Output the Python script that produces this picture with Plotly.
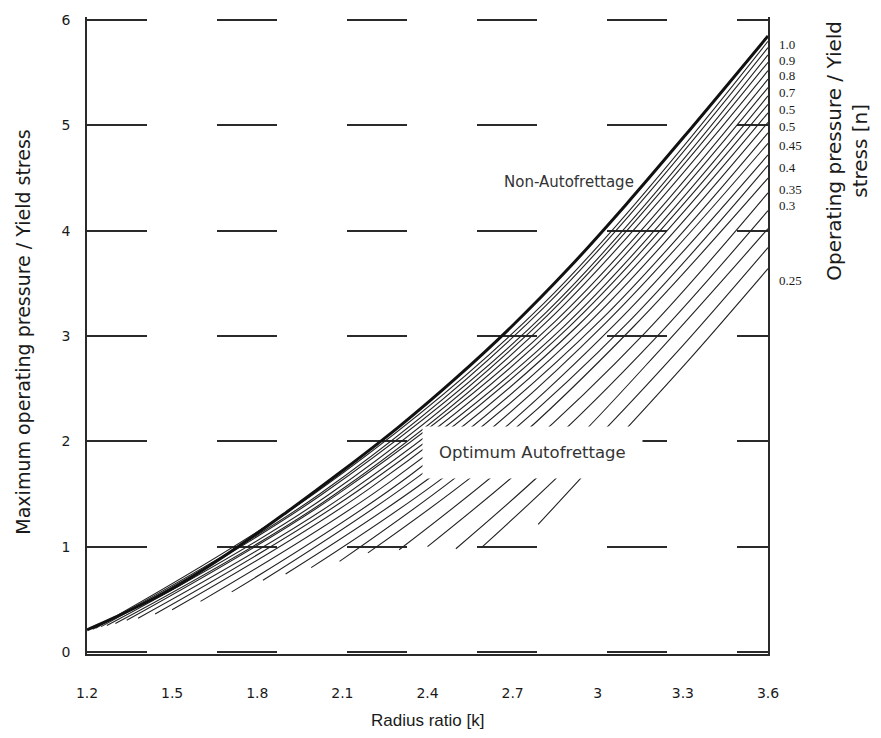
import plotly.graph_objects as go

# ---- data ----
x_ticks = [1.2, 1.5, 1.8, 2.1, 2.4, 2.7, 3.0, 3.3, 3.6]
x_tick_text = ["1.2", "1.5", "1.8", "2.1", "2.4", "2.7", "3", "3.3", "3.6"]
y_ticks = [0, 1, 2, 3, 4, 5, 6]

# Non-autofrettage limit curve (top boundary)
main_k = [1.2, 1.3, 1.5, 1.7, 1.9, 2.1, 2.3, 2.5, 2.7, 2.9, 3.1, 3.3, 3.6]
main_y = [0.21, 0.33, 0.60, 0.94, 1.32, 1.72, 2.14, 2.60, 3.10, 3.65, 4.25, 4.88, 5.85]

# Hatch curves (optimum autofrettage family): start point, two inner points, end at k = 3.6
hatch_start_k = [2.79, 2.59, 2.50, 2.40, 2.30, 2.19, 2.09, 1.99, 1.90, 1.82, 1.71,
                 1.60, 1.50, 1.44, 1.38, 1.34, 1.30, 1.27, 1.25, 1.23, 1.22]
hatch_start_y = [1.21, 0.99, 0.98, 1.00, 0.97, 0.94, 0.86, 0.80, 0.74, 0.68, 0.57,
                 0.48, 0.40, 0.36, 0.32, 0.30, 0.27, 0.25, 0.24, 0.225, 0.215]
hatch_k1 = [3.06, 2.93, 2.87, 2.80, 2.73, 2.66, 2.59, 2.53, 2.47, 2.41, 2.34,
            2.27, 2.20, 2.16, 2.12, 2.09, 2.07, 2.05, 2.03, 2.02, 2.01]
hatch_y1 = [2.00, 1.85, 1.87, 1.90, 1.90, 1.89, 1.85, 1.81, 1.78, 1.75, 1.68,
            1.62, 1.56, 1.54, 1.51, 1.51, 1.49, 1.49, 1.50, 1.50, 1.52]
hatch_k2 = [3.33, 3.27, 3.23, 3.20, 3.17, 3.13, 3.10, 3.06, 3.03, 3.01, 2.97,
            2.93, 2.90, 2.88, 2.86, 2.85, 2.83, 2.82, 2.82, 2.81, 2.81]
hatch_y2 = [2.80, 2.82, 2.90, 2.97, 3.04, 3.10, 3.11, 3.11, 3.13, 3.15, 3.13,
            3.10, 3.09, 3.09, 3.11, 3.14, 3.16, 3.19, 3.23, 3.27, 3.31]
hatch_end_y = [3.64, 3.84, 4.02, 4.19, 4.36, 4.50, 4.62, 4.72, 4.83, 4.93, 5.03,
               5.12, 5.20, 5.28, 5.36, 5.44, 5.52, 5.60, 5.67, 5.74, 5.80]
K_END = 3.6

# Right-hand n labels
n_labels = ["1.0", "0.9", "0.8", "0.7", "0.5", "0.5", "0.45", "0.4", "0.35", "0.3", "0.25"]
n_label_y = [5.77, 5.62, 5.47, 5.31, 5.15, 4.99, 4.81, 4.60, 4.39, 4.24, 3.53]

INK = "#1a1a1a"
GRID = "#2a2a2a"
GRID_DASH = "60px,70px"

fig = go.Figure()

for ks, ys, k1, y1, k2, y2, ye in zip(hatch_start_k, hatch_start_y, hatch_k1, hatch_y1,
                                      hatch_k2, hatch_y2, hatch_end_y):
    fig.add_trace(go.Scatter(
        x=[ks, k1, k2, K_END], y=[ys, y1, y2, ye], mode="lines",
        line=dict(color="#222222", width=1.1, shape="spline", smoothing=1.0),
        hoverinfo="skip", showlegend=False))

fig.add_trace(go.Scatter(
    x=main_k, y=main_y, mode="lines",
    line=dict(color="#111111", width=3, shape="spline", smoothing=1.0),
    hoverinfo="skip", showlegend=False))

annotations = []
for lab, yy in zip(n_labels, n_label_y):
    annotations.append(dict(
        x=K_END, y=yy, xref="x", yref="y", text=lab, showarrow=False,
        xanchor="left", yanchor="middle", xshift=9,
        font=dict(family="Liberation Serif, DejaVu Serif, serif", size=13, color=INK)))

annotations.append(dict(
    x=2.90, y=4.46, xref="x", yref="y", text="Non-Autofrettage", showarrow=False,
    font=dict(family="DejaVu Sans, sans-serif", size=15, color="#333333")))
annotations.append(dict(
    x=2.77, y=1.89, xref="x", yref="y", text="Optimum Autofrettage", showarrow=False,
    bgcolor="white", borderpad=16,
    font=dict(family="DejaVu Sans, sans-serif", size=16.5, color="#333333")))

# axis titles
annotations.append(dict(
    x=0.5, y=-0.105, xref="paper", yref="paper", text="Radius ratio [k]",
    showarrow=False, yanchor="middle",
    font=dict(family="Liberation Sans, Arial, sans-serif", size=17, color=INK)))
annotations.append(dict(
    x=-0.094, y=0.506, xref="paper", yref="paper",
    text="Maximum operating pressure / Yield stress", textangle=-90,
    showarrow=False, xanchor="center", yanchor="middle",
    font=dict(family="DejaVu Sans, sans-serif", size=19, color=INK)))
annotations.append(dict(
    x=1.116, y=0.79, xref="paper", yref="paper",
    text="Operating pressure / Yield<br>stress [n]", textangle=-90,
    showarrow=False, xanchor="center", yanchor="middle",
    font=dict(family="DejaVu Sans, sans-serif", size=20, color=INK)))

fig.update_layout(
    width=881, height=738,
    margin=dict(l=87, r=113, t=17, b=84),
    paper_bgcolor="white", plot_bgcolor="white",
    annotations=annotations,
    showlegend=False,
)

fig.update_xaxes(
    range=[1.2, 3.6], tickvals=x_ticks, ticktext=x_tick_text,
    showgrid=False, zeroline=False,
    showline=True, linecolor=GRID, linewidth=1.6, mirror=False,
    ticks="", ticklabelstandoff=25,
    tickfont=dict(family="DejaVu Sans, sans-serif", size=14, color=INK),
)
fig.update_yaxes(
    range=[-0.02, 6.03], tickvals=y_ticks,
    showgrid=True, gridcolor=GRID, gridwidth=1.8, griddash=GRID_DASH,
    zeroline=False, showline=True, linecolor=GRID, linewidth=1.6, mirror=True,
    ticks="", ticklabelstandoff=12,
    tickfont=dict(family="DejaVu Sans, sans-serif", size=14, color=INK),
)

fig.write_html("out.html")
